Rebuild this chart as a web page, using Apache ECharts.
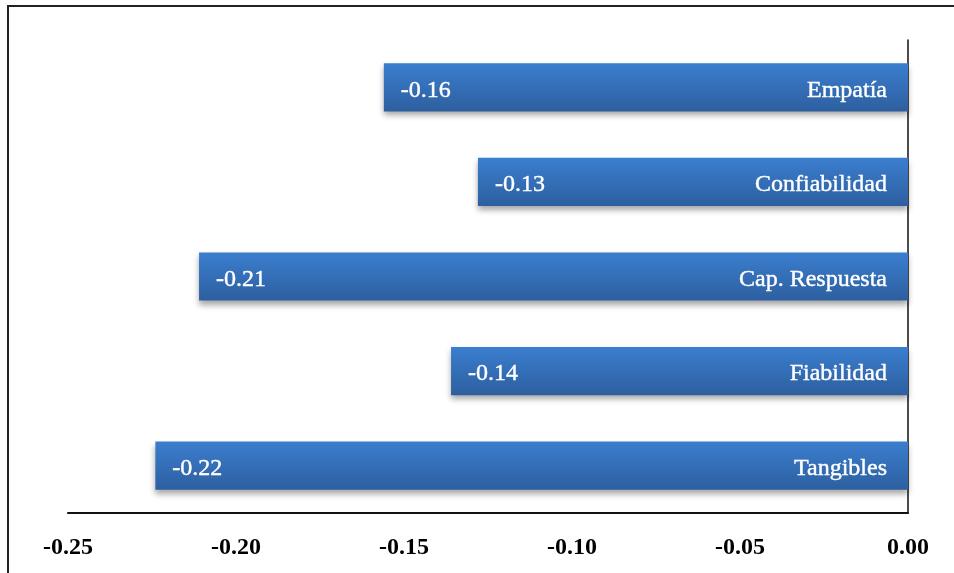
<!DOCTYPE html>
<html>
<head>
<meta charset="utf-8">
<script src="https://cdn.jsdelivr.net/npm/echarts@6/dist/echarts.min.js"></script>
<style>html,body{margin:0;padding:0;background:#fff}#c{width:954px;height:573px}</style>
</head>
<body>
<div id="c"></div>
<script>
const categories = ['Empatía', 'Confiabilidad', 'Cap. Respuesta', 'Fiabilidad', 'Tangibles'];
const values = [-0.156, -0.128, -0.211, -0.136, -0.224];
const tickLabels = ['-0.25', '-0.20', '-0.15', '-0.10', '-0.05', '0.00'];

const chart = echarts.init(document.getElementById('c'));
const barColor = new echarts.graphic.LinearGradient(0, 0, 0, 1, [
  { offset: 0, color: '#3b7ecf' },
  { offset: 1, color: '#2d5f9f' }
]);
const labelFont = {
  color: '#fff',
  fontFamily: 'Liberation Serif',
  fontSize: 24,
  textBorderColor: '#fff',
  textBorderWidth: 0.4,
  offset: [0, 3]
};
chart.setOption({
  animation: false,
  backgroundColor: '#fff',
  graphic: [{
    type: 'rect',
    shape: { x: 8, y: 6, width: 1200, height: 1000 },
    style: { fill: 'none', stroke: '#222', lineWidth: 2 },
    silent: true
  }],
  grid: { left: 68, right: 46, top: 40, bottom: 60, containLabel: false },
  xAxis: {
    type: 'value',
    min: -0.25,
    max: 0,
    interval: 0.05,
    splitLine: { show: false },
    axisTick: { show: false },
    axisLine: { show: true, onZero: false, lineStyle: { color: '#111', width: 2 } },
    axisLabel: {
      margin: 23,
      fontFamily: 'Liberation Serif',
      fontWeight: 'bold',
      fontSize: 24,
      color: '#000',
      formatter: function (v) {
        const i = Math.round((v + 0.25) / 0.05);
        return tickLabels[i];
      }
    }
  },
  yAxis: {
    type: 'category',
    data: categories,
    inverse: true,
    position: 'right',
    axisTick: { show: false },
    axisLabel: { show: false },
    axisLine: { show: true, onZero: false, lineStyle: { color: '#111', width: 1.5 } }
  },
  series: [{
    type: 'bar',
    data: values,
    barWidth: '51%',
    itemStyle: {
      color: barColor,
      shadowColor: 'rgba(0,0,0,0.35)',
      shadowBlur: 6,
      shadowOffsetY: 4
    },
    label: Object.assign({
      show: true,
      position: 'insideLeft',
      distance: 17,
      formatter: function (p) { return p.value.toFixed(2); }
    }, labelFont)
  }, {
    type: 'bar',
    data: values,
    barWidth: '51%',
    barGap: '-100%',
    silent: true,
    itemStyle: { color: 'rgba(0,0,0,0)' },
    label: Object.assign({
      show: true,
      position: 'insideRight',
      distance: 21,
      formatter: function (p) { return categories[p.dataIndex]; }
    }, labelFont)
  }]
});
</script>
</body>
</html>
